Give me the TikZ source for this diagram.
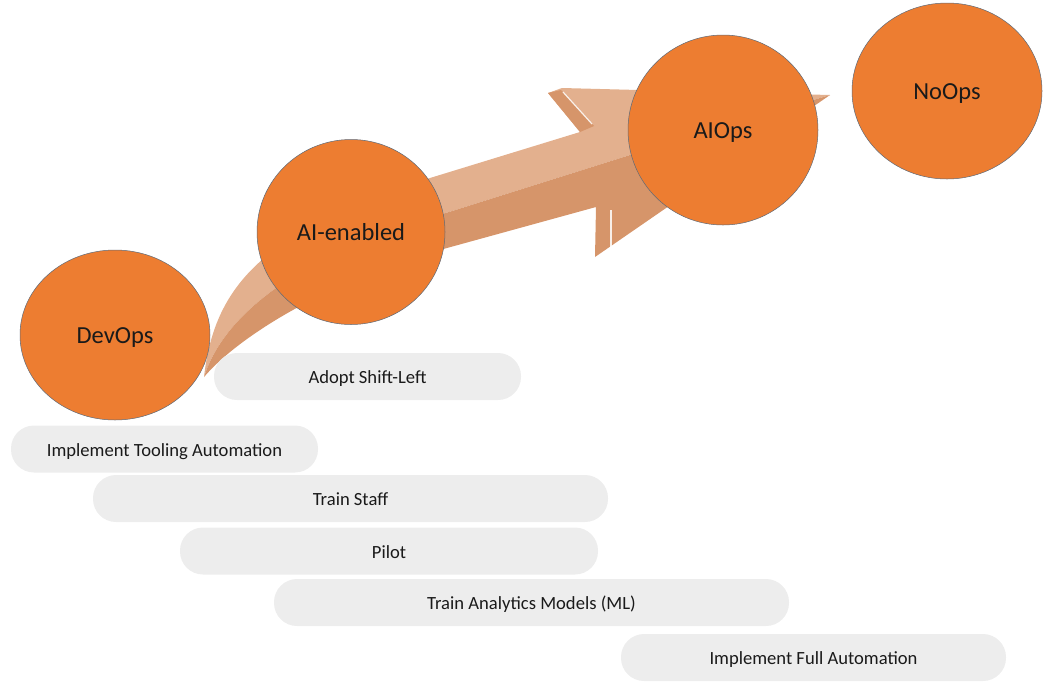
\documentclass[tikz,border=0pt]{standalone}
\usepackage{fontspec}
\setmainfont{Carlito}
\usetikzlibrary{shapes.geometric}
\definecolor{orng}{HTML}{ED7D31}
\definecolor{arlight}{HTML}{E3B08E}
\definecolor{ardark}{HTML}{D6956A}
\definecolor{pillgray}{HTML}{EDEDED}
\definecolor{edgegray}{HTML}{5E6A78}
\definecolor{txt}{HTML}{1A1A1A}
\begin{document}
\begin{tikzpicture}[x=1pt,y=-1pt,
  stage/.style={ellipse, fill=orng, draw=edgegray, line width=0.5pt, inner sep=0pt,
    text=txt, font=\fontsize{24.5}{28}\selectfont, text height=18pt, text depth=2pt},
  pill/.style={rounded corners=23pt, fill=pillgray, inner sep=0pt, minimum height=47pt,
    text=txt, font=\fontsize{18.6}{22}\selectfont, text height=16pt, text depth=2pt}]
\useasboundingbox (0,0) rectangle (1054,689);
% curved arrow (light upper half)
\fill[arlight] (204,377) .. controls (215,280) and (270,230) .. (430,178) -- (580,132)
  -- (548,93) -- (562,88) -- (830,95) -- (630,155) -- (449,212)
  .. controls (310,250) and (225,310) .. (204,377) -- cycle;
% darker lower half
\fill[ardark] (204,377) .. controls (225,310) and (310,250) .. (449,212) -- (630,155)
  -- (830,95) -- (595,257) -- (596,207) -- (447,248)
  .. controls (330,280) and (240,335) .. (204,377) -- cycle;
% barb faces
\fill[ardark] (548,93) -- (561,90) -- (594,126) -- (580,132) -- cycle;
\draw[white, line width=1.2pt, opacity=0.85] (563,92) -- (592,124);
\draw[white, line width=1.2pt, opacity=0.85] (611,210) -- (611,252);
% stages
\node[stage, minimum width=190pt, minimum height=170pt] (devops) at (115,335) {DevOps};
\node[stage, minimum width=188pt, minimum height=185pt] (aien) at (351,232) {AI-enabled};
\node[stage, minimum width=190pt, minimum height=190pt] (aiops) at (723,130) {AIOps};
\node[stage, minimum width=190pt, minimum height=176pt] (noops) at (947,91) {NoOps};
% activities
\node[pill, minimum width=307pt] (shift) at (367.5,376.5) {Adopt Shift-Left};
\node[pill, minimum width=307pt] (tool) at (164.5,449) {Implement Tooling Automation};
\node[pill, minimum width=515pt] (staff) at (350.5,498.5) {Train Staff};
\node[pill, minimum width=418pt] (pilot) at (389,551) {Pilot};
\node[pill, minimum width=515pt] (ml) at (531.5,602.5) {Train Analytics Models (ML)};
\node[pill, minimum width=385pt] (full) at (813.5,657.5) {Implement Full Automation};
\end{tikzpicture}
\end{document}
